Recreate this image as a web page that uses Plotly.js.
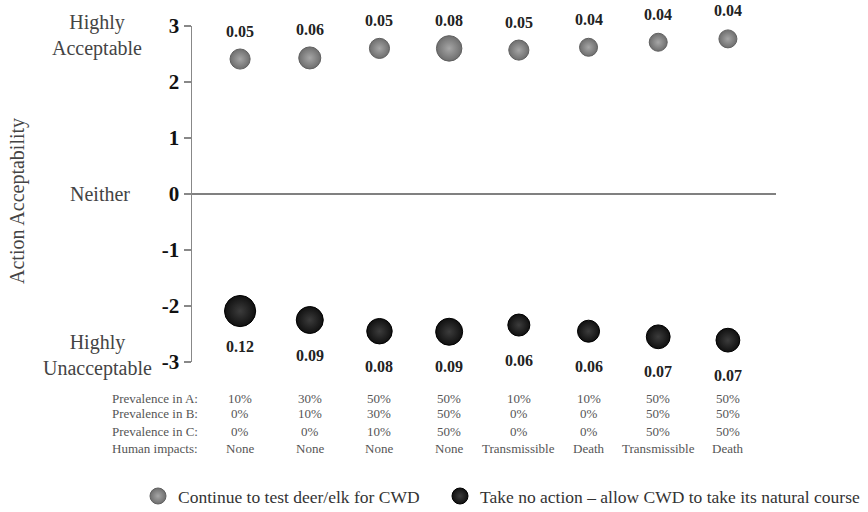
<!DOCTYPE html>
<html>
<head>
<meta charset="utf-8">
<script src="https://cdn.plot.ly/plotly-3.0.1.min.js"></script>
<style>html,body{margin:0;padding:0;background:#fff;}#chart{width:868px;height:512px;}</style>
</head>
<body>
<div id="chart"></div>
<script>
var scenarios = ["S1","S2","S3","S4","S5","S6","S7","S8"];
var testMeans = [2.41, 2.43, 2.60, 2.60, 2.57, 2.62, 2.71, 2.77];
var testSizes = [0.05, 0.06, 0.05, 0.08, 0.05, 0.04, 0.04, 0.04];
var noActionMeans = [-2.09, -2.25, -2.45, -2.46, -2.34, -2.45, -2.55, -2.61];
var noActionSizes = [0.12, 0.09, 0.08, 0.09, 0.06, 0.06, 0.07, 0.07];
var rowLabels = ["Prevalence in A:", "Prevalence in B:", "Prevalence in C:", "Human impacts:"];
var prevA = ["10%","30%","50%","50%","10%","10%","50%","50%"];
var prevB = ["0%","10%","30%","50%","0%","0%","50%","50%"];
var prevC = ["0%","0%","10%","50%","0%","0%","50%","50%"];
var human = ["None","None","None","None","Transmissible","Death","Transmissible","Death"];
var yTicks = [-3,-2,-1,0,1,2,3];
var seriesNames = ["Continue to test deer/elk for CWD", "Take no action \u2013 allow CWD to take its natural course"];

var serif = "Liberation Serif, Times New Roman, serif";
var sizeref = 2/8100;
var grayStyle = {color: "#6e6e6e", opacity: 1, gradient: {type: "radial", color: "#a6a6a6"}, line: {color: "#606060", width: 1}};
var blackStyle = {color: "#101010", opacity: 1, gradient: {type: "radial", color: "#3c3c3c"}, line: {color: "#000", width: 1}};

function mk(style, extra){ var m = JSON.parse(JSON.stringify(style)); for (var k in extra) m[k] = extra[k]; return m; }

var traces = [
  {x: scenarios, y: testMeans, type: "scatter", mode: "markers", showlegend: false,
   marker: mk(grayStyle, {size: testSizes, sizemode: "area", sizeref: sizeref}), cliponaxis: false},
  {x: scenarios, y: noActionMeans, type: "scatter", mode: "markers", showlegend: false,
   marker: mk(blackStyle, {size: noActionSizes, sizemode: "area", sizeref: sizeref}), cliponaxis: false},
  {x: [null], y: [null], type: "scatter", mode: "markers", name: seriesNames[0], legend: "legend",
   marker: mk(grayStyle, {size: 20})},
  {x: [null], y: [null], type: "scatter", mode: "markers", name: seriesNames[1], legend: "legend2",
   marker: mk(blackStyle, {size: 20})}
];

var annotations = [];
var numFont = {family: serif, size: 16, color: "#222", weight: "bold"};
scenarios.forEach(function(s, i){
  annotations.push({x: s, y: testMeans[i], xref: "x", yref: "y", text: testSizes[i].toFixed(2),
    showarrow: false, yshift: 28, font: numFont});
  annotations.push({x: s, y: noActionMeans[i], xref: "x", yref: "y", text: noActionSizes[i].toFixed(2),
    showarrow: false, yshift: -35, font: numFont});
});

// table under the chart
var rows = [prevA, prevB, prevC, human];
var rowY = [398, 414, 431, 448];
var tblFont = {family: serif, size: 13, color: "#555"};
rows.forEach(function(r, ri){
  var yp = 1 - (rowY[ri] - 26) / 336;
  annotations.push({x: 0, xref: "paper", xanchor: "left", y: yp, yref: "paper", yanchor: "middle",
    xshift: -82, text: rowLabels[ri], showarrow: false, font: tblFont});
  r.forEach(function(v, i){
    annotations.push({x: scenarios[i], xref: "x", y: yp, yref: "paper", yanchor: "middle",
      text: v, showarrow: false, font: tblFont});
  });
});

// side labels
var sideFont = {family: serif, size: 20, color: "#444"};
annotations.push({x: 0, xref: "paper", xanchor: "center", xshift: -95, y: 3, yref: "y", yanchor: "middle", yshift: -9,
  text: "Highly<br>Acceptable", align: "center", showarrow: false, font: sideFont});
annotations.push({x: 0, xref: "paper", xanchor: "right", xshift: -60, y: 0, yref: "y", yanchor: "middle",
  text: "Neither", showarrow: false, font: sideFont});
annotations.push({x: 0, xref: "paper", xanchor: "center", xshift: -95, y: -3, yref: "y", yanchor: "middle", yshift: 7,
  text: "Highly<br>Unacceptable", align: "center", showarrow: false, font: sideFont});
// y-axis title
annotations.push({x: 0, xref: "paper", xanchor: "center", xshift: -175, y: 0.5, yref: "paper", yanchor: "middle", yshift: -7,
  text: "Action Acceptability", textangle: -90, showarrow: false, font: {family: serif, size: 20, color: "#444"}});

var legendBase = {orientation: "h", xanchor: "left", xref: "container", y: 0.031, yanchor: "middle", yref: "container",
  font: {family: serif, size: 17.5, color: "#333"}, itemsizing: "trace", bgcolor: "rgba(0,0,0,0)"};
var legend1 = JSON.parse(JSON.stringify(legendBase)); legend1.x = 138/868;
var legend2 = JSON.parse(JSON.stringify(legendBase)); legend2.x = 440/868;

var layout = {
  width: 868, height: 512,
  margin: {l: 192, r: 92, t: 26, b: 150},
  paper_bgcolor: "#fff", plot_bgcolor: "#fff",
  showlegend: true,
  legend: legend1,
  legend2: legend2,
  xaxis: {type: "category", range: [-0.69, 7.69], showgrid: false, zeroline: false, showline: false,
    showticklabels: false, ticks: ""},
  yaxis: {range: [-3, 3], tickvals: yTicks, ticktext: yTicks.map(String), showgrid: false,
    zeroline: true, zerolinecolor: "#808080", zerolinewidth: 1.5,
    showline: true, linecolor: "#888", linewidth: 1.5, ticks: "outside", ticklen: 7, tickcolor: "#888", tickwidth: 1.5,
    tickfont: {family: serif, size: 21, color: "#111", weight: "bold"},
    automargin: false},
  annotations: annotations
};

Plotly.newPlot("chart", traces, layout, {displayModeBar: false, staticPlot: true});
</script>
</body>
</html>
